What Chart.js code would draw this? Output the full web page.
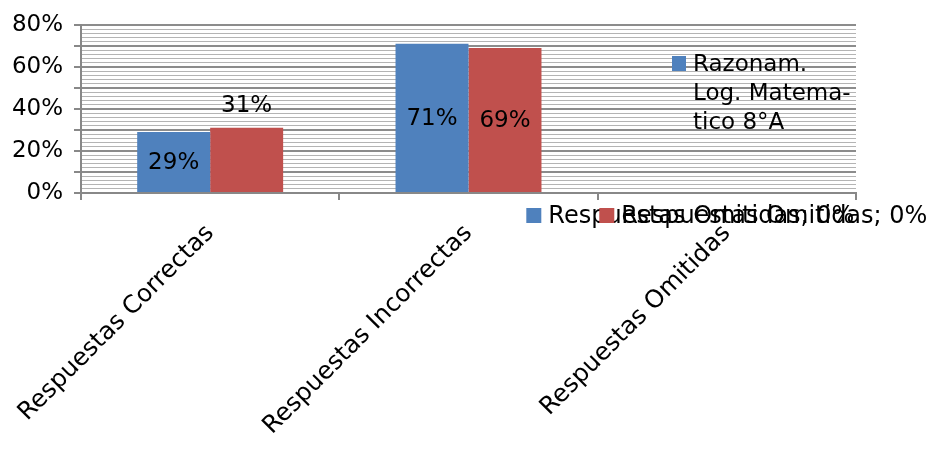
<!DOCTYPE html>
<html>
<head>
<meta charset="utf-8">
<script src="https://cdn.jsdelivr.net/npm/chart.js@4.4.1/dist/chart.umd.min.js"></script>
<style>
  html, body { margin: 0; padding: 0; background: #fff; }
  #wrap { width: 935px; height: 450px; }
</style>
</head>
<body>
<div id="wrap"><canvas id="chart" width="935" height="450"></canvas></div>
<script>
// Categories and values (percent)
const categories = ['Respuestas Correctas', 'Respuestas Incorrectas', 'Respuestas Omitidas'];
const seriesNames = ['Razonam. Log. Matematico 8°A', 'Serie 2'];
const razonamValues = [29, 71, 0];
const serie2Values = [31, 69, 0];
const yTicks = [0, 20, 40, 60, 80];

const FONT = 'DejaVu Sans';
const FS = 23;

// where each data label goes: center of bar, above bar, or category label with key
const labelModes = [
    ['center', 'center', 'key'],
    ['end', 'center', 'key']
];

const labelsPlugin = {
    id: 'excelLabels',
    afterDatasetsDraw(chart) {
        const ctx = chart.ctx;
        ctx.save();
        ctx.fillStyle = '#000';
        chart.data.datasets.forEach((ds, di) => {
            const meta = chart.getDatasetMeta(di);
            meta.data.forEach((bar, i) => {
                const v = ds.data[i];
                const mode = labelModes[di][i];
                const txt = v + '%';
                ctx.font = FS + 'px "' + FONT + '"';
                if (mode === 'center') {
                    ctx.textAlign = 'center';
                    ctx.textBaseline = 'middle';
                    ctx.fillText(txt, bar.x, (bar.y + bar.base) / 2 + 1);
                } else if (mode === 'end') {
                    ctx.textAlign = 'center';
                    ctx.textBaseline = 'middle';
                    ctx.fillText(txt, bar.x, bar.y - 22);
                } else {
                    ctx.font = '24px "' + FONT + '"';
                    const s = categories[i] + '; ' + txt;
                    const boxW = 22 + ctx.measureText(s).width;
                    const left = bar.x - boxW / 2;
                    const cy = bar.y + 23;
                    ctx.fillStyle = ds.backgroundColor;
                    ctx.fillRect(left, cy - 8, 15, 15);
                    ctx.fillStyle = '#000';
                    ctx.textAlign = 'left';
                    ctx.textBaseline = 'middle';
                    ctx.fillText(s, left + 22, cy + 1);
                }
            });
        });
        ctx.restore();
    },
    afterDraw(chart) {
        // legend with only the first series, wrapped on three lines
        const ctx = chart.ctx;
        const ds = chart.data.datasets[0];
        ctx.save();
        ctx.fillStyle = ds.backgroundColor;
        ctx.fillRect(672, 56, 14, 15);
        ctx.fillStyle = '#000';
        ctx.font = FS + 'px "' + FONT + '"';
        ctx.textAlign = 'left';
        ctx.textBaseline = 'middle';
        ['Razonam.', 'Log. Matema-', 'tico 8°A'].forEach((line, k) => {
            ctx.fillText(line, 693, 65 + k * 29);
        });
        ctx.restore();
    }
};

new Chart(document.getElementById('chart'), {
    type: 'bar',
    data: {
        labels: categories,
        datasets: [
            {
                label: seriesNames[0],
                data: razonamValues,
                backgroundColor: '#4f81bd',
                categoryPercentage: 0.565,
                barPercentage: 1
            },
            {
                label: seriesNames[1],
                data: serie2Values,
                backgroundColor: '#c0504d',
                categoryPercentage: 0.565,
                barPercentage: 1
            }
        ]
    },
    options: {
        responsive: false,
        animation: false,
        layout: { padding: { top: 22, right: 79, left: 0, bottom: 0 } },
        plugins: {
            legend: { display: false },
            tooltip: { enabled: false }
        },
        scales: {
            x: {
                afterFit: (s) => { s.height = 257; s.paddingLeft = 0; s.paddingRight = 0; },
                border: { color: '#888', width: 2 },
                grid: {
                    drawOnChartArea: false,
                    drawTicks: true,
                    tickLength: 7,
                    tickColor: '#888',
                    lineWidth: 2
                },
                ticks: {
                    minRotation: 45,
                    maxRotation: 45,
                    autoSkip: false,
                    padding: 19,
                    color: '#000',
                    font: { family: FONT, size: 24.5 }
                }
            },
            y: {
                min: 0,
                max: 80,
                afterFit: (s) => { s.width = 81; },
                border: { color: '#888', width: 2 },
                grid: {
                    tickLength: 7,
                    color: (c) => (c.tick && c.tick.value % 10 === 0) ? '#8c8c8c' : '#b4b4b4',
                    tickColor: (c) => (c.tick && c.tick.value % 10 === 0) ? '#888' : 'rgba(0,0,0,0)',
                    lineWidth: (c) => (c.tick && c.tick.value % 10 === 0) ? 2 : 1
                },
                ticks: {
                    stepSize: 2,
                    autoSkip: false,
                    padding: 11,
                    color: '#000',
                    font: { family: FONT, size: FS },
                    callback: (v) => yTicks.includes(v) ? v + '%' : ''
                }
            }
        }
    },
    plugins: [labelsPlugin]
});
</script>
</body>
</html>
